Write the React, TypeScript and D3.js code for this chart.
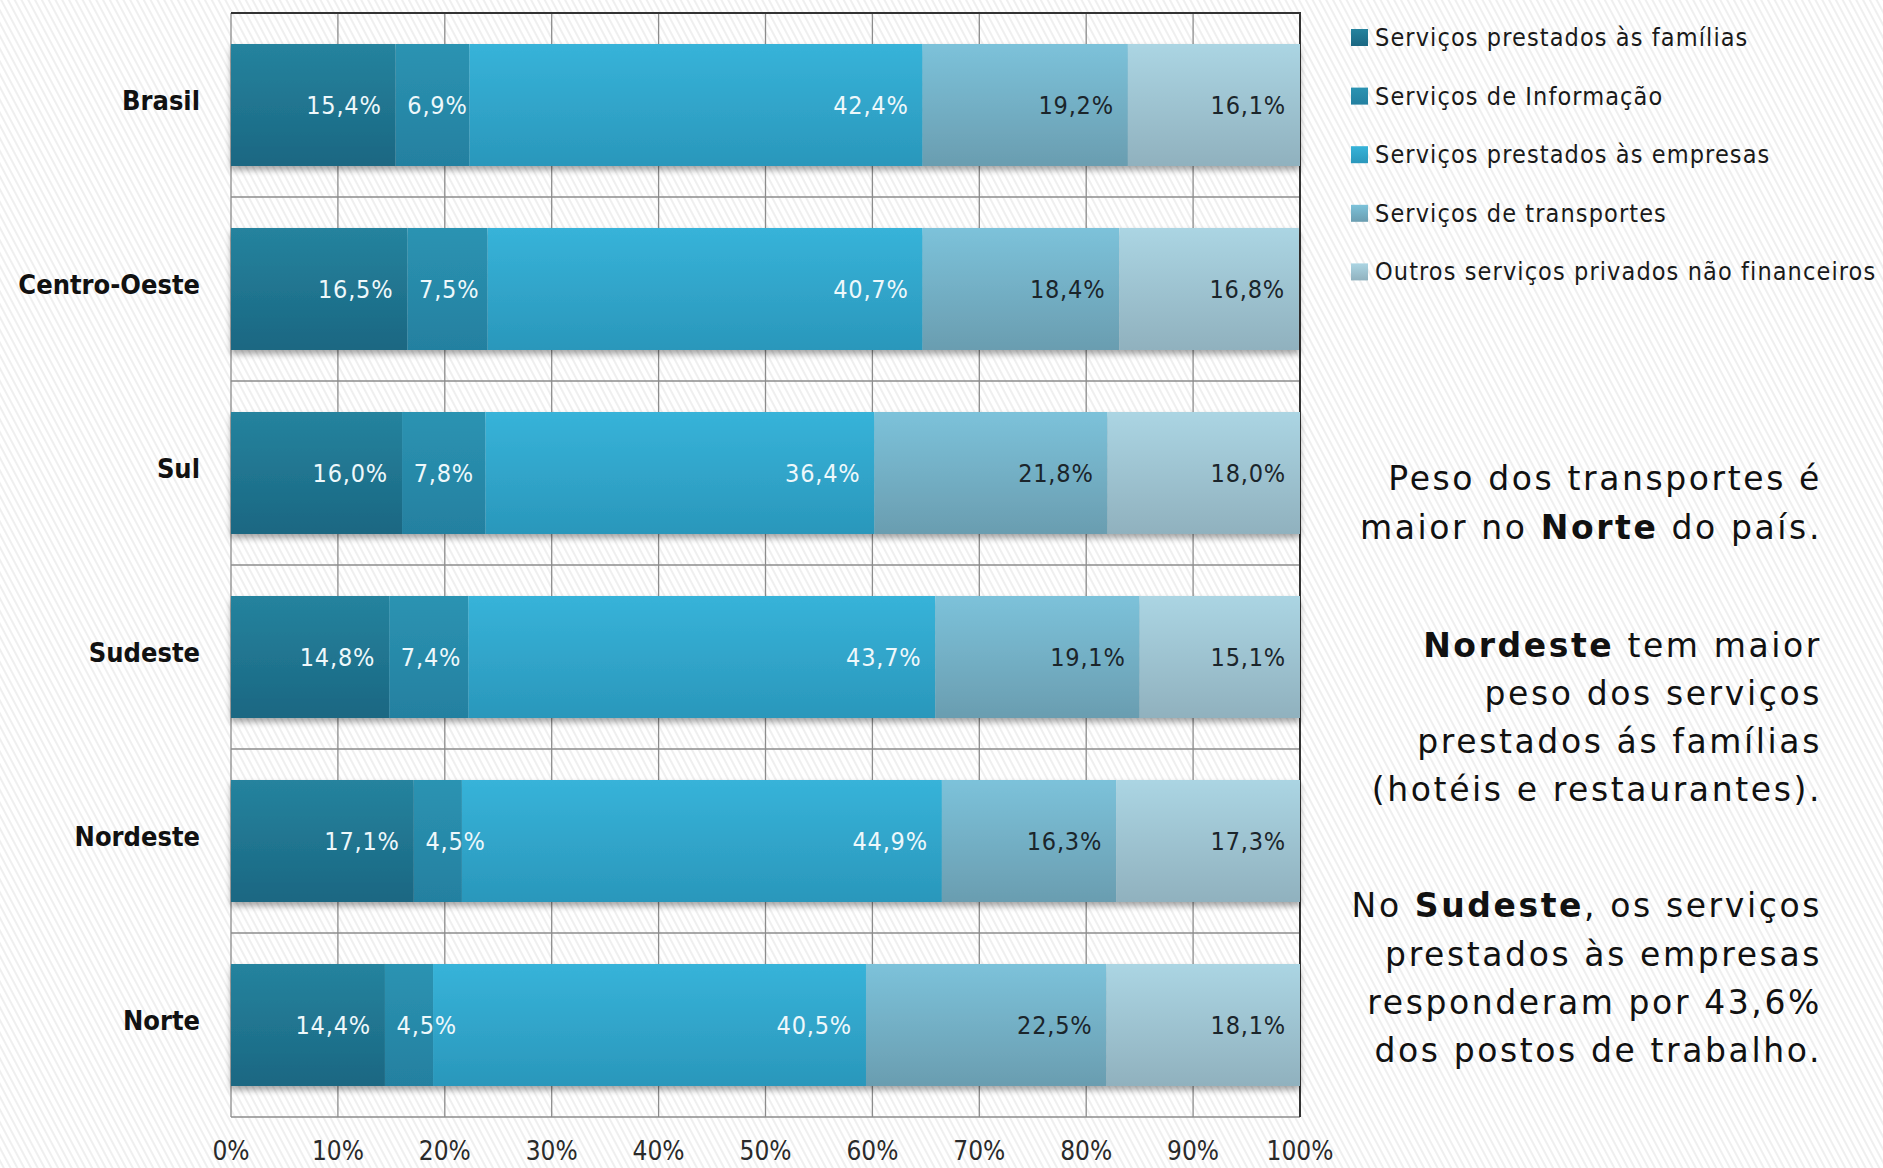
import React from 'react';
import * as d3 from 'd3';

// categorias (regiões) e séries em %
const categories = ['Brasil', 'Centro-Oeste', 'Sul', 'Sudeste', 'Nordeste', 'Norte'];
const seriesNames = [
  'Serviços prestados às famílias',
  'Serviços de Informação',
  'Serviços prestados às empresas',
  'Serviços de transportes',
  'Outros serviços privados não financeiros',
];
const familias = [15.4, 16.5, 16.0, 14.8, 17.1, 14.4];
const informacao = [6.9, 7.5, 7.8, 7.4, 4.5, 4.5];
const empresas = [42.4, 40.7, 36.4, 43.7, 44.9, 40.5];
const transportes = [19.2, 18.4, 21.8, 19.1, 16.3, 22.5];
const outros = [16.1, 16.8, 18.0, 15.1, 17.3, 18.1];
const xTicks = [0, 10, 20, 30, 40, 50, 60, 70, 80, 90, 100];

const seriesValues = [familias, informacao, empresas, transportes, outros];
const gradTop = ['#25839e', '#2b93b2', '#37b3d9', '#7cc2da', '#abd5e3'];
const gradBottom = ['#1b6782', '#2480a0', '#2a97bb', '#6a9db0', '#90b1be'];
const labelColor = ['#eef8fb', '#eef8fb', '#eef8fb', '#1b252b', '#1b252b'];

const W = 1883;
const H = 1168;
const left = 231;
const right = 1300;
const top = 13;
const bottom = 1117;

const fmt = (v) => v.toFixed(1).replace('.', ',') + '%';

const notes = [
  { y: 478, parts: [['Peso dos transportes é', false]] },
  { y: 527, parts: [['maior no ', false], ['Norte', true], [' do país.', false]] },
  { y: 645, parts: [['Nordeste', true], [' tem maior', false]] },
  { y: 693, parts: [['peso dos serviços', false]] },
  { y: 741, parts: [['prestados ás famílias', false]] },
  { y: 789, parts: [['(hotéis e restaurantes).', false]] },
  { y: 905, parts: [['No ', false], ['Sudeste', true], [', os serviços', false]] },
  { y: 954, parts: [['prestados às empresas', false]] },
  { y: 1002, parts: [['responderam por 43,6%', false]] },
  { y: 1050, parts: [['dos postos de trabalho.', false]] },
];

export default function App() {
  const rows = categories.map((c, i) => {
    const r = { cat: c };
    seriesNames.forEach((s, k) => (r[s] = seriesValues[k][i]));
    return r;
  });
  const stacked = d3.stack().keys(seriesNames)(rows);

  const x = d3.scaleLinear().domain([0, 100]).range([left, right]).clamp(true);
  const y = d3
    .scaleBand()
    .domain(categories)
    .range([top, bottom])
    .paddingInner(0.337)
    .paddingOuter(0.1685);

  const condensed = "'DejaVu Sans Condensed', 'DejaVu Sans', sans-serif";
  const gap = (y.step() - y.bandwidth()) / 2;

  return (
    <svg width={W} height={H} style={{ position: 'absolute', left: 0, top: 0, background: '#fff' }}>
      <defs>
        <pattern id="hatch" width="6" height="6" patternUnits="userSpaceOnUse" patternTransform="rotate(-28)">
          <rect width="6" height="6" fill="#ffffff" />
          <line x1="1" y1="0" x2="1" y2="6" stroke="#ebebeb" strokeWidth="1.6" />
        </pattern>
        {gradTop.map((c, i) => (
          <linearGradient key={i} id={'g' + i} x1="0" y1="0" x2="0" y2="1">
            <stop offset="0" stopColor={c} />
            <stop offset="1" stopColor={gradBottom[i]} />
          </linearGradient>
        ))}
        <filter id="shadow" x="-5%" y="-20%" width="110%" height="150%">
          <feDropShadow dx="0" dy="4" stdDeviation="3" floodColor="#000" floodOpacity="0.35" />
        </filter>
      </defs>
      <rect width={W} height={H} fill="url(#hatch)" />

      {/* grade */}
      <g stroke="#8c8c8c" strokeWidth={1.3}>
        {xTicks.slice(1, -1).map((t) => (
          <line key={t} x1={x(t)} x2={x(t)} y1={top} y2={bottom} />
        ))}
        {categories.slice(1).map((c) => (
          <line key={c} x1={left} x2={right} y1={y(c) - gap} y2={y(c) - gap} />
        ))}
        <line x1={left} x2={left} y1={top} y2={bottom} />
        <line x1={left} x2={right} y1={bottom} y2={bottom} />
      </g>
      <path d={`M${left},${top}H${right}V${bottom}`} fill="none" stroke="#333" strokeWidth={2} />

      {/* barras */}
      {categories.map((c, i) => (
        <g key={c} filter="url(#shadow)">
          {stacked.map((s, k) => (
            <rect
              key={k}
              x={x(s[i][0])}
              y={y(c)}
              width={x(s[i][1]) - x(s[i][0])}
              height={y.bandwidth()}
              fill={`url(#g${k})`}
            />
          ))}
        </g>
      ))}

      {/* rótulos de valores */}
      {categories.map((c, i) => (
        <g key={c}>
          {stacked.map((s, k) => {
            const x0 = x(s[i][0]);
            const x1 = x(s[i][1]);
            const txt = fmt(seriesValues[k][i]);
            const w = txt.length * 14.5;
            const xr = Math.max(x1 - 14, x0 + 14 + w);
            return (
              <text
                key={k}
                x={xr}
                y={y(c) + y.bandwidth() / 2}
                dy="0.36em"
                textAnchor="end"
                fill={labelColor[k]}
                fontFamily={condensed}
                style={{ fontStretch: 'condensed' }}
                fontSize={25}
                letterSpacing={0.8}
              >
                {txt}
              </text>
            );
          })}
        </g>
      ))}

      {/* eixo y */}
      {categories.map((c) => (
        <text
          key={c}
          x={200}
          y={y(c) + y.bandwidth() / 2 - 5}
          dy="0.36em"
          textAnchor="end"
          fontFamily={condensed}
          style={{ fontStretch: 'condensed' }}
          fontWeight="bold"
          fontSize={27}
          fill="#111"
        >
          {c}
        </text>
      ))}

      {/* eixo x */}
      {xTicks.map((t) => (
        <text
          key={t}
          x={x(t)}
          y={1160}
          textAnchor="middle"
          fontFamily={condensed}
          style={{ fontStretch: 'condensed' }}
          fontSize={26}
          fill="#2a2a2a"
        >
          {t + '%'}
        </text>
      ))}

      {/* legenda */}
      {seriesNames.map((s, k) => (
        <g key={s} transform={`translate(1351, ${37 + k * 58.6})`}>
          <rect x={0} y={-8} width={17} height={17} fill={`url(#g${k})`} />
          <text
            x={24}
            y={0}
            dy="0.36em"
            fontFamily={condensed}
            style={{ fontStretch: 'condensed' }}
            fontSize={25}
            letterSpacing={1.1}
            fill="#1a1a1a"
          >
            {s}
          </text>
        </g>
      ))}

      {/* anotações */}
      {notes.map((n, i) => (
        <text
          key={i}
          x={1822}
          y={n.y}
          dy="0.36em"
          textAnchor="end"
          fontFamily="'DejaVu Sans', sans-serif"
          fontSize={33}
          letterSpacing={2.6}
          fill="#111"
        >
          {n.parts.map(([t, b], j) => (
            <tspan key={j} fontWeight={b ? 'bold' : 'normal'}>
              {t}
            </tspan>
          ))}
        </text>
      ))}
    </svg>
  );
}
